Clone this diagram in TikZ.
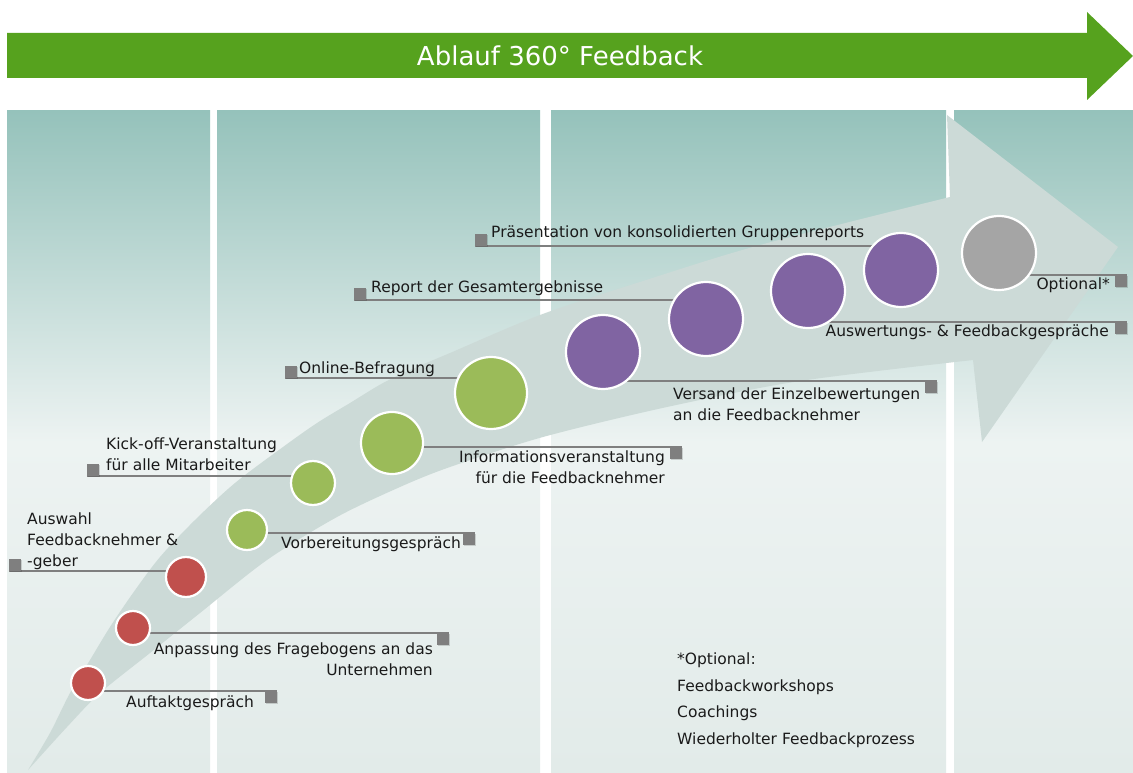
\documentclass[tikz,border=0pt]{standalone}
\usepackage{fontspec}
\setmainfont{DejaVu Sans}
\usetikzlibrary{shadows}
\definecolor{titlegreen}{HTML}{56A21E}
\definecolor{coltop}{HTML}{95C2BB}
\definecolor{colmid}{HTML}{EDF3F2}
\definecolor{colbot}{HTML}{E2EBE9}
\definecolor{bandc}{HTML}{CCDAD7}
\definecolor{redc}{HTML}{C0504D}
\definecolor{greenc}{HTML}{9BBB59}
\definecolor{purplec}{HTML}{8064A2}
\definecolor{grayc}{HTML}{A5A5A5}
\definecolor{sqc}{HTML}{7F7F7F}
\definecolor{txtc}{HTML}{1A1A1A}
\pgfdeclarelayer{back}
\pgfdeclarelayer{mid}
\pgfsetlayers{back,mid,main}
\tikzset{
  column/.style={top color=coltop, bottom color=colbot, middle color=colmid, draw=none},
  dot/.style={circle, inner sep=0pt, draw=white, line width=2.2pt},
  reddot/.style={dot, fill=redc},
  greendot/.style={dot, fill=greenc},
  purpledot/.style={dot, fill=purplec},
  graydot/.style={dot, fill=grayc},
  marker/.style={rectangle, inner sep=0pt, minimum size=12pt, fill=sqc,
    drop shadow={shadow xshift=1pt, shadow yshift=-1pt, opacity=.15, fill=black}},
  conn/.style={draw=sqc, line width=1.5pt},
  lbl/.style={inner sep=0pt, text=txtc, font=\fontsize{15.5}{21}\selectfont},
}
\begin{document}
\begin{tikzpicture}[x=1pt,y=-1pt]
\useasboundingbox (0,0) rectangle (1133,773);
\begin{pgfonlayer}{back}
\fill[white] (0,0) rectangle (1133,773);
% columns
\shade[column] (7,111) rectangle (210,773);
\shade[column] (217,111) rectangle (540,773);
\shade[column] (551,111) rectangle (946,773);
\shade[column] (954,111) rectangle (1133,773);
% big curved arrow
\fill[bandc] plot[smooth] coordinates {(28,770) (50,733) (70,693) (90,660) (110,627) (133,593) (160,557) (195,520) (235,483) (283,447) (317,423) (350,403) (383,383) (417,367) (450,353) (540,315) (640,282) (760,245) (950,197)}
  -- (947,115) -- (1118,247) -- (982,442) --
  plot[smooth] coordinates {(973,360) (800,381) (667,407) (543,437) (450,467) (400,487) (337,517) (267,560) (200,613) (150,653) (100,693) (67,727) (28,770)} -- cycle;
\end{pgfonlayer}
% title arrow
\fill[titlegreen] (7,33) -- (1087,33) -- (1087,12) -- (1133,56) -- (1087,100) -- (1087,78) -- (7,78) -- cycle;
\node[text=white, font=\fontsize{26}{30}\selectfont, inner sep=0pt] (title) at (560,56) {Ablauf 360° Feedback};
% circles
\node[reddot, minimum size=34pt] (c1) at (88,683) {};
\node[reddot, minimum size=34pt] (c2) at (133,628) {};
\node[reddot, minimum size=40pt] (c3) at (186,577) {};
\node[greendot, minimum size=40pt] (c4) at (247,530) {};
\node[greendot, minimum size=44pt] (c5) at (313,483) {};
\node[greendot, minimum size=62pt] (c6) at (392,443) {};
\node[greendot, minimum size=72pt] (c7) at (491,393) {};
\node[purpledot, minimum size=74pt] (c8) at (603,352) {};
\node[purpledot, minimum size=74pt] (c9) at (706,319) {};
\node[purpledot, minimum size=74pt] (c10) at (808,291) {};
\node[purpledot, minimum size=74pt] (c11) at (901,270) {};
\node[graydot, minimum size=74pt] (c12) at (999,253) {};
% markers
\node[marker] (s1) at (271,697) {};
\node[marker] (s2) at (443,639) {};
\node[marker] (s3) at (15,565) {};
\node[marker] (s4) at (469,539) {};
\node[marker] (s5) at (93,470) {};
\node[marker] (s6) at (676,453) {};
\node[marker] (s7) at (291,372) {};
\node[marker] (s8) at (931,387) {};
\node[marker] (s9) at (360,294) {};
\node[marker] (s10) at (481,240) {};
\node[marker] (s11) at (1121,328) {};
\node[marker] (s12) at (1121,281) {};
% connectors
\begin{pgfonlayer}{mid}
\draw[conn] (c1 |- s1.north) -- (s1.north east);
\draw[conn] (c2 |- s2.north) -- (s2.north east);
\draw[conn] (s3.south west) -- (c3 |- s3.south);
\draw[conn] (c4 |- s4.north) -- (s4.north east);
\draw[conn] (s5.south west) -- (c5 |- s5.south);
\draw[conn] (c6 |- s6.north) -- (s6.north east);
\draw[conn] (s7.south west) -- (c7 |- s7.south);
\draw[conn] (c8 |- s8.north) -- (s8.north east);
\draw[conn] (s9.south west) -- (c9 |- s9.south);
\draw[conn] (s10.south west) -- (c11 |- s10.south);
\draw[conn] (c10 |- s11.north) -- (s11.north east);
\draw[conn] (c12 |- s12.north) -- (s12.north east);
\end{pgfonlayer}
% labels
\node[lbl, anchor=west] (t1) at (126,703) {Auftaktgespräch};
\node[lbl, anchor=east, align=right] (t2) at (433,659) {Anpassung des Fragebogens an das\\Unternehmen};
\node[lbl, anchor=west, align=left] (t3) at (27,541) {Auswahl\\Feedbacknehmer \&\\-geber};
\node[lbl, anchor=west] (t4) at (281,544) {Vorbereitungsgespräch};
\node[lbl, anchor=west, align=left] (t5) at (106,454) {Kick-off-Veranstaltung\\für alle Mitarbeiter};
\node[lbl, anchor=east, align=right] (t6) at (665,467) {Informationsveranstaltung\\für die Feedbacknehmer};
\node[lbl, anchor=west] (t7) at (299,369) {Online-Befragung};
\node[lbl, anchor=west, align=left] (t8) at (673,404) {Versand der Einzelbewertungen\\an die Feedbacknehmer};
\node[lbl, anchor=west] (t9) at (371,288) {Report der Gesamtergebnisse};
\node[lbl, anchor=west] (t10) at (491,233) {Präsentation von konsolidierten Gruppenreports};
\node[lbl, anchor=east] (t11) at (1109,332) {Auswertungs- \& Feedbackgespräche};
\node[lbl, anchor=east] (t12) at (1110,285) {Optional*};
\node[lbl, anchor=west, align=left, font=\fontsize{15.5}{26.5}\selectfont] (note) at (677,700) {*Optional:\\Feedbackworkshops\\Coachings\\Wiederholter Feedbackprozess};
\end{tikzpicture}
\end{document}
